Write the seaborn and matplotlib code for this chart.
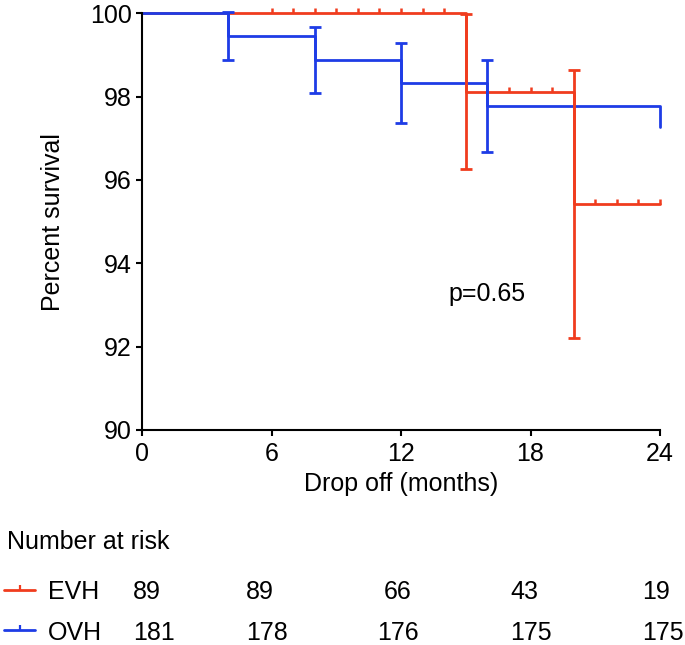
"""
Kaplan-Meier style drop-off curves, EVH vs OVH, with number-at-risk table.
"""

import matplotlib as mpl
import matplotlib.pyplot as plt
from matplotlib.lines import Line2D
import seaborn as sns

# survival steps (months, percent)
EVH_TIMES = [0, 15, 20, 24]
EVH_SURV = [100, 98.12, 95.42, 95.42]
OVH_TIMES = [0, 4, 8, 12, 16, 24]
OVH_SURV = [100, 99.45, 98.88, 98.33, 97.78, 97.28]

# error bars at the event times
EVH_ERR_TIMES = [15, 20]
EVH_ERR_SURV = [98.12, 95.42]
EVH_ERR_SE = [1.86, 3.22]
OVH_ERR_TIMES = [4, 8, 12, 16]
OVH_ERR_SURV = [99.45, 98.88, 98.33, 97.78]
OVH_ERR_SE = [0.57, 0.79, 0.96, 1.10]

# censor marks
EVH_CENSOR_TIMES = [6, 7, 8, 9, 10, 11, 12, 13, 14, 17, 18, 19, 21, 22, 23, 24]
EVH_CENSOR_SURV = [100] * 9 + [98.12] * 3 + [95.42] * 4

GROUPS = ["EVH", "OVH"]
COLORS = {"EVH": "#F03C1E", "OVH": "#1E3CE6"}
AT_RISK = {
    "EVH": [89, 89, 66, 43, 19],
    "OVH": [181, 178, 176, 175, 175],
}
P_TEXT = "p=0.65"

W, H = 685, 645
FONT = 18


def fx(px):
    return px / W


def fy(py):
    return 1 - py / H


def setup_style():
    sns.set_theme(style="white")
    mpl.rcParams.update({
        "font.family": "Liberation Sans",
        "font.size": FONT,
        "text.color": "black",
        "axes.labelcolor": "black",
        "xtick.color": "black",
        "ytick.color": "black",
        "axes.edgecolor": "black",
        "axes.linewidth": 1.5,
    })


def make_figure():
    setup_style()
    fig = plt.figure(figsize=(W / 100, H / 100), dpi=100)
    ax = fig.add_axes([fx(142), fy(430), fx(660) - fx(142), fy(13.3) - fy(430)])

    line_kw = dict(linewidth=2.0, clip_on=False, estimator=None, sort=False,
                   drawstyle="steps-post", ax=ax, legend=False)
    sns.lineplot(x=EVH_TIMES, y=EVH_SURV, color=COLORS["EVH"], **line_kw)
    sns.lineplot(x=OVH_TIMES, y=OVH_SURV, color=COLORS["OVH"], **line_kw)

    ax.plot(EVH_CENSOR_TIMES, EVH_CENSOR_SURV, linestyle="none", marker=2,
            markersize=3.8, markeredgewidth=1.8, color=COLORS["EVH"], clip_on=False)

    err_kw = dict(fmt="none", elinewidth=2.0, capsize=4.5, capthick=2.0, clip_on=False)
    ax.errorbar(EVH_ERR_TIMES, EVH_ERR_SURV, yerr=EVH_ERR_SE, ecolor=COLORS["EVH"], **err_kw)
    ax.errorbar(OVH_ERR_TIMES, OVH_ERR_SURV, yerr=OVH_ERR_SE, ecolor=COLORS["OVH"], **err_kw)

    ax.set_xlim(0, 24)
    ax.set_ylim(90, 100)
    ax.set_xticks(range(0, 25, 6))
    ax.set_yticks(range(90, 101, 2))
    ax.spines[["top", "right"]].set_visible(False)
    ax.tick_params(axis="both", length=4.3, width=1.5, color="black",
                   labelsize=FONT, bottom=True, left=True)
    ax.tick_params(axis="x", pad=4)
    ax.tick_params(axis="y", pad=3)
    ax.set_xlabel("Drop off (months)", fontsize=FONT, labelpad=5)
    ax.set_ylabel("Percent survival", fontsize=FONT)
    ax.yaxis.set_label_coords(-0.148, 0.5)

    ax.text(14.18, 93.1, P_TEXT, fontsize=FONT, ha="left", va="baseline")

    # number at risk table
    fig.text(fx(7), fy(549), "Number at risk", fontsize=FONT, va="baseline")
    col_x = [133, 246, 398, 510, 642]
    col_ha = ["left", "left", "center", "left", "left"]
    row_base = {"EVH": 599, "OVH": 640}
    row_mid = {"EVH": 590, "OVH": 630}
    for g in GROUPS:
        fig.add_artist(Line2D(
            [fx(4), fx(19.5), fx(35)], [fy(row_mid[g])] * 3,
            transform=fig.transFigure, color=COLORS[g], linewidth=2.0,
            marker=2, markevery=[1], markersize=3.5, markeredgewidth=1.6,
        ))
        fig.text(fx(48), fy(row_base[g]), g, fontsize=FONT, va="baseline")
        for x, ha, n in zip(col_x, col_ha, AT_RISK[g]):
            fig.text(fx(x), fy(row_base[g]), str(n), fontsize=FONT, ha=ha, va="baseline")
    return fig


def main():
    fig = make_figure()
    fig.savefig("out.png", dpi=100, facecolor="white")
    plt.close(fig)


if __name__ == "__main__":
    main()
